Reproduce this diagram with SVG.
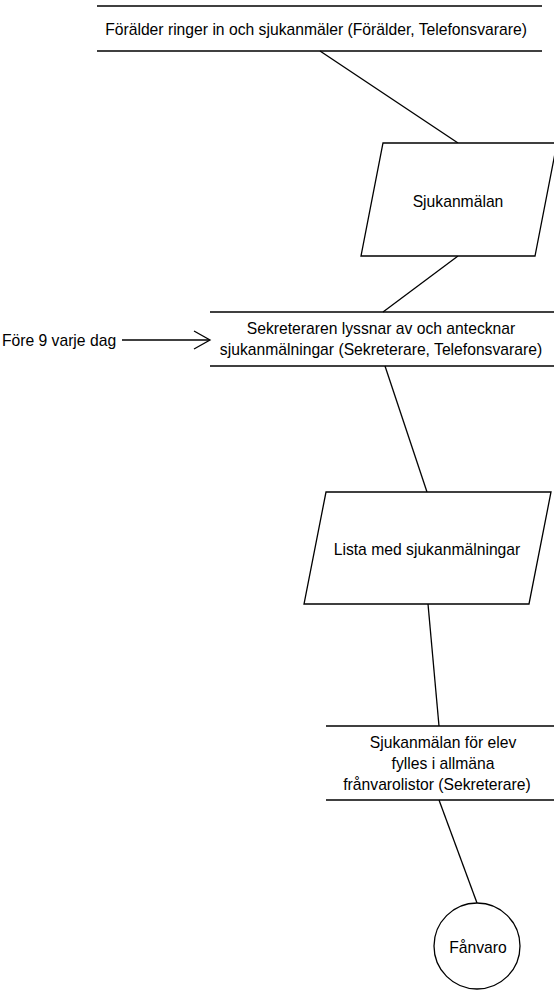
<svg xmlns="http://www.w3.org/2000/svg" width="554" height="990" viewBox="0 0 554 990">
<defs>
<style>
text{font-family:"Liberation Sans",Arial,sans-serif;font-size:15.7px;fill:#000;text-anchor:middle}
.s{fill:#fff;stroke:#000;stroke-width:1.3}
.l{stroke:#000;stroke-width:1.3;fill:none}
</style>
</defs>
<rect width="554" height="990" fill="#fff"/>
<g id="connectors">
<line class="l" x1="320" y1="51" x2="458" y2="143"/>
<line class="l" x1="458" y1="256" x2="383" y2="312"/>
<line class="l" x1="385" y1="366" x2="427" y2="492"/>
<line class="l" x1="428" y1="604" x2="439" y2="726"/>
<line class="l" x1="439" y1="800" x2="477" y2="903"/>
<line class="l" x1="122" y1="340" x2="209" y2="340"/>
<polyline class="l" points="194,331 210,340 194,349"/>
</g>
<g id="n1">
<line class="l" x1="97" y1="6" x2="542" y2="6"/>
<line class="l" x1="97" y1="51" x2="542" y2="51"/>
<text x="316" y="35">Förälder ringer in och sjukanmäler (Förälder, Telefonsvarare)</text>
</g>
<g id="n2">
<polygon class="s" points="383,143 557,143 535,256 361,256"/>
<text x="458" y="207">Sjukanmälan</text>
</g>
<g id="n3">
<line class="l" x1="210" y1="312" x2="554" y2="312"/>
<line class="l" x1="210" y1="366" x2="554" y2="366"/>
<text x="381" y="334">Sekreteraren lyssnar av och antecknar</text>
<text x="381" y="355">sjukanmälningar (Sekreterare, Telefonsvarare)</text>
</g>
<g id="trigger">
<text x="59" y="346">Före 9 varje dag</text>
</g>
<g id="n4">
<polygon class="s" points="326,492 551,492 529,604 304,604"/>
<text x="427" y="555">Lista med sjukanmälningar</text>
</g>
<g id="n5">
<line class="l" x1="326" y1="726" x2="554" y2="726"/>
<line class="l" x1="326" y1="800" x2="554" y2="800"/>
<text x="443" y="748">Sjukanmälan för elev</text>
<text x="443" y="769">fylles i allmäna</text>
<text x="437" y="790">frånvarolistor (Sekreterare)</text>
</g>
<g id="n6">
<circle class="s" cx="477" cy="946" r="43"/>
<text x="478" y="953">Fånvaro</text>
</g>
</svg>
